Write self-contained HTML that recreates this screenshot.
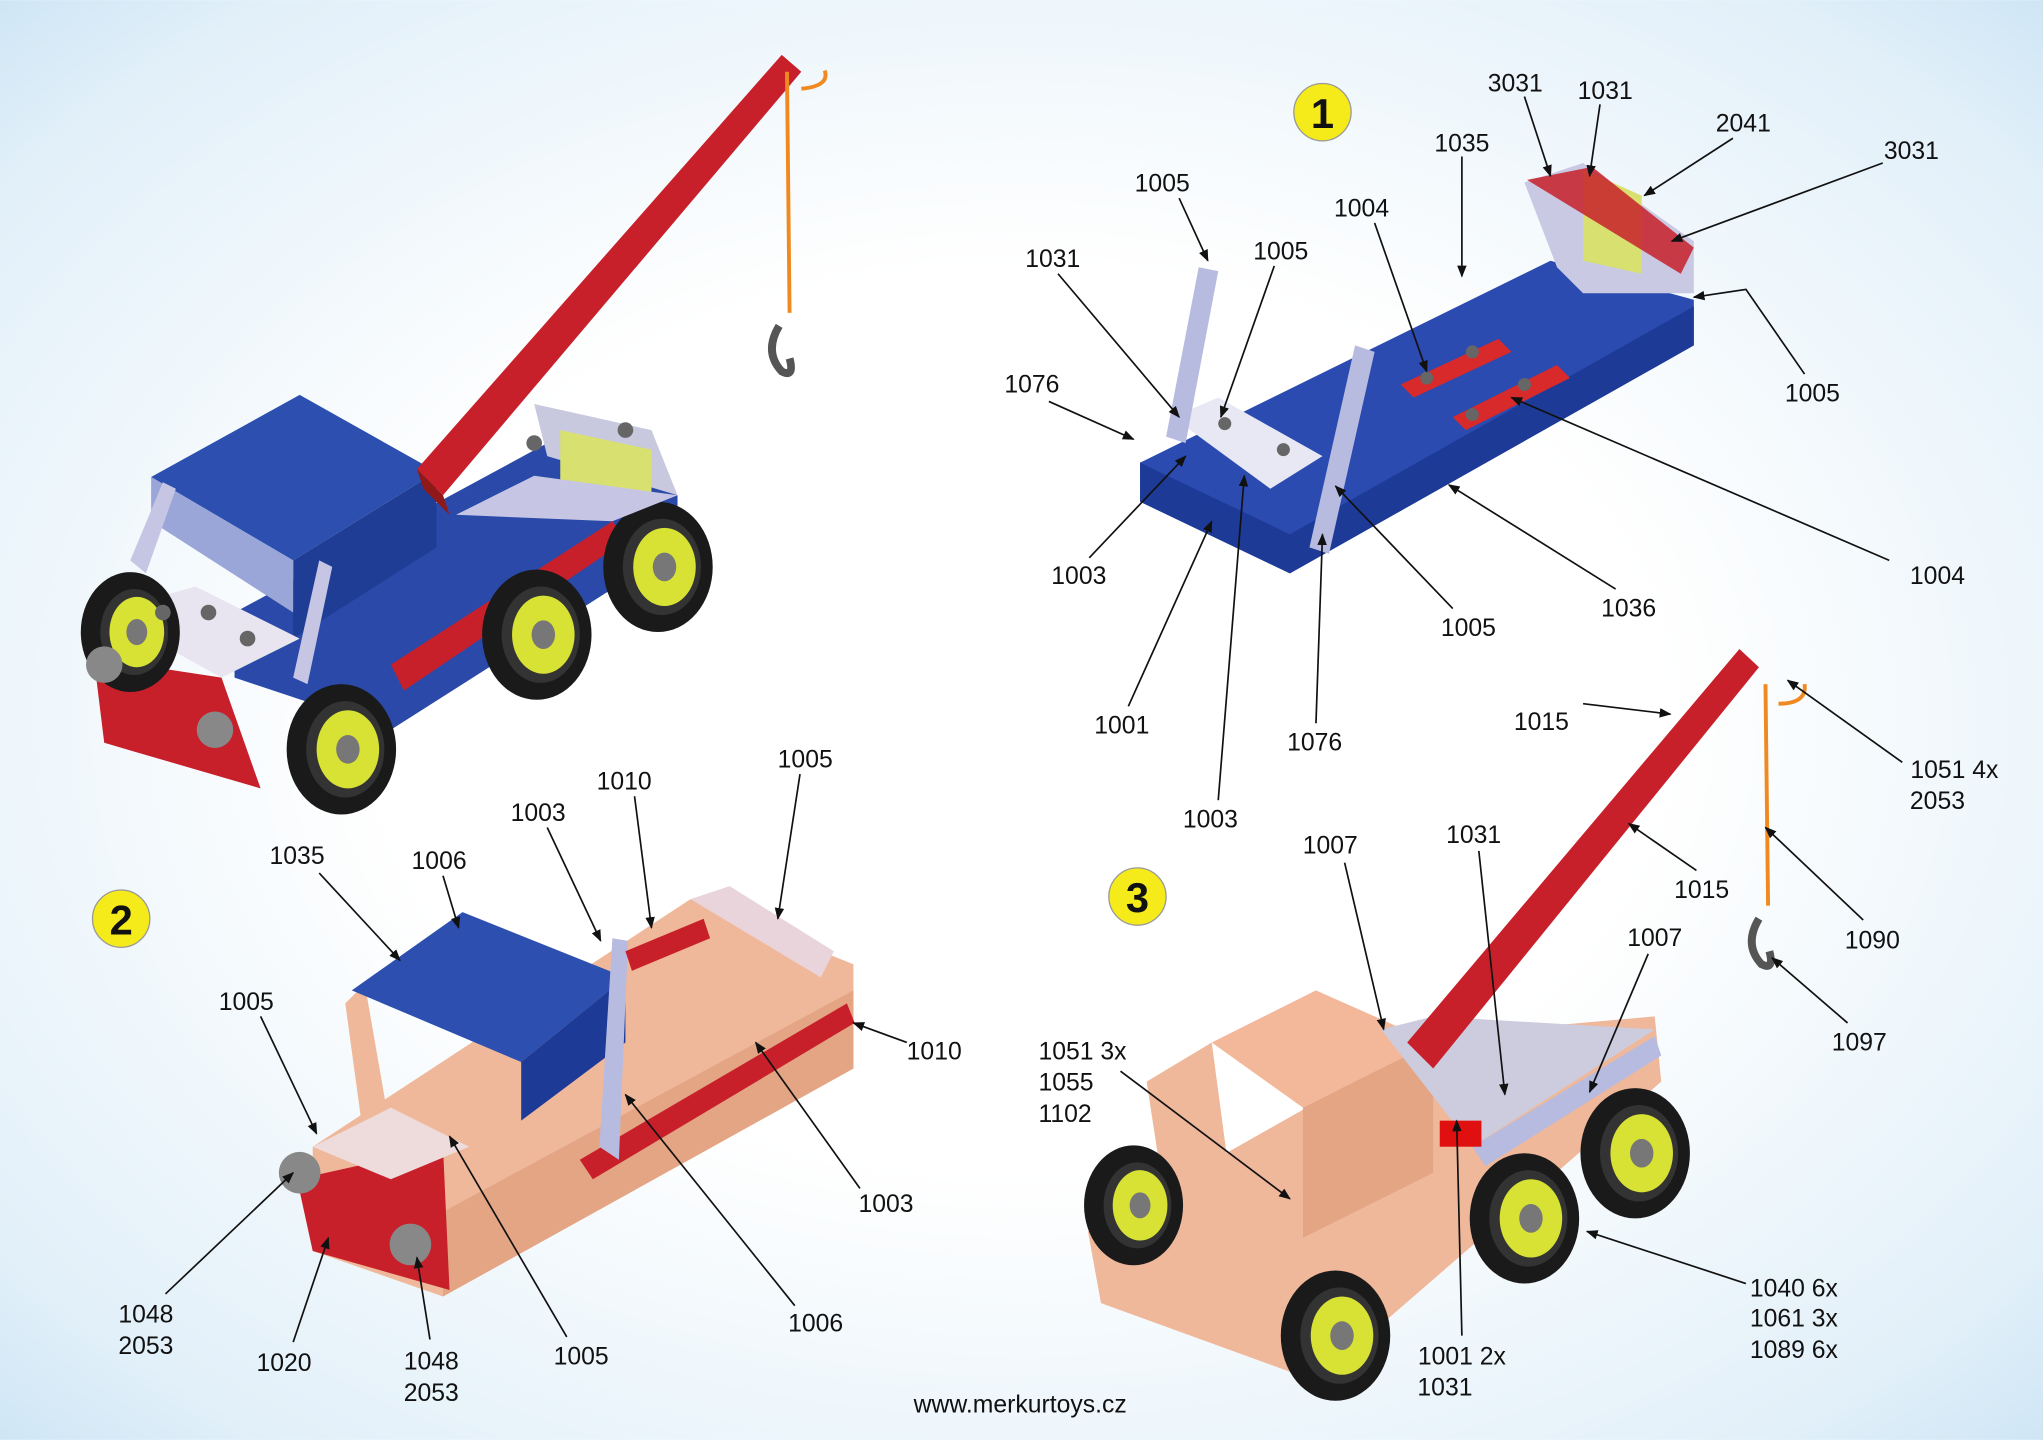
<!DOCTYPE html>
<html><head><meta charset="utf-8"><style>
html,body{margin:0;padding:0;background:#fff}
svg{display:block}
text{font-family:"Liberation Sans",sans-serif;font-size:19px;fill:#111}
</style></head><body>
<svg width="2043" height="1440" viewBox="0 0 1568 1105" xmlns="http://www.w3.org/2000/svg">
<defs>
<radialGradient id="bg" cx="0.5" cy="0.5" r="0.75">
<stop offset="0.42" stop-color="#ffffff"/><stop offset="0.82" stop-color="#e2f0f9"/><stop offset="1" stop-color="#c6e1f3"/>
</radialGradient>
<marker id="ar" viewBox="0 0 10 10" refX="9" refY="5" markerWidth="7" markerHeight="7" orient="auto-start-reverse">
<path d="M0,1 L10,5 L0,9 z" fill="#111"/></marker>
<g id="wheel"><ellipse cx="0" cy="0" rx="42" ry="50" fill="#1a1a1a"/><ellipse cx="3" cy="0" rx="30" ry="37" fill="#333"/><ellipse cx="5" cy="0" rx="24" ry="30" fill="#d7e234"/><ellipse cx="5" cy="0" rx="9" ry="11" fill="#777"/></g>
<g id="wheelL"><ellipse cx="0" cy="0" rx="38" ry="46" fill="#1a1a1a"/><ellipse cx="3" cy="0" rx="26" ry="33" fill="#333"/><ellipse cx="5" cy="0" rx="21" ry="27" fill="#d7e234"/><ellipse cx="5" cy="0" rx="8" ry="10" fill="#777"/></g>
</defs>
<rect width="1568" height="1105" fill="url(#bg)"/>

<!-- ===== Finished truck (top-left) ===== -->
<polygon points="180,470 420,340 520,380 520,420 300,560 180,520" fill="#2a49a8"/>
<polygon points="116,366 230,303 335,362 225,430" fill="#2c4fb0"/>
<polygon points="225,430 335,362 335,420 225,490" fill="#1f3d94"/>
<polygon points="116,366 225,430 225,470 116,400" fill="#9aa6d8"/>
<polygon points="410,310 500,330 520,380 420,350" fill="#c8c8df"/>
<polygon points="430,330 500,345 500,400 430,385" fill="#d8e070"/>
<polygon points="80,470 150,450 230,490 170,520" fill="#e8e4f0"/>
<polygon points="72,505 170,520 200,605 80,570" fill="#c8202a"/>
<polygon points="300,510 470,400 480,415 310,530" fill="#c8202a"/>
<polygon points="320,360 600,42 615,55 340,380" fill="#c8202a"/>
<polygon points="320,360 340,380 345,395 325,375" fill="#901818"/>
<path d="M604,55 L606,240" stroke="#f08a20" stroke-width="3" fill="none"/>
<path d="M615,68 q22,-2 18,-14" stroke="#f08a20" stroke-width="3" fill="none"/>
<path d="M598,250 q-12,20 2,35 q10,5 6,-10" stroke="#555" stroke-width="6" fill="none"/>
<use href="#wheelL" x="100" y="485"/>
<use href="#wheel" x="262" y="575"/>
<use href="#wheel" x="412" y="487"/>
<use href="#wheel" x="505" y="435"/>
<polygon points="100,430 125,370 135,375 112,440" fill="#c6c6e4"/>
<polygon points="225,520 245,430 255,435 236,525" fill="#c6c6e4"/>
<polygon points="350,395 410,365 520,380 470,400" fill="#c6c6e4"/>
<circle cx="80" cy="510" r="14" fill="#888"/><circle cx="165" cy="560" r="14" fill="#888"/>
<g fill="#666"><circle cx="125" cy="470" r="6"/><circle cx="160" cy="470" r="6"/><circle cx="190" cy="490" r="6"/><circle cx="410" cy="340" r="6"/><circle cx="480" cy="330" r="6"/></g>

<!-- ===== Step 1 ===== -->
<circle cx="1015" cy="86" r="22" fill="#f5ea1a" stroke="#999" stroke-width="1"/>
<text x="1015" y="98" text-anchor="middle" style="font-size:32px;font-weight:bold">1</text>
<polygon points="875,355 1190,200 1300,230 1300,265 990,440 875,385" fill="#2b4bb0"/>
<polygon points="875,355 990,410 1300,235 1300,265 990,440 875,385" fill="#1d3a96"/>
<polygon points="1170,140 1215,125 1300,185 1300,225 1215,225 1195,205" fill="#c9c9e3"/>
<polygon points="1215,130 1260,150 1260,210 1215,200" fill="#d8e070"/>
<polygon points="1172,138 1222,128 1300,190 1290,210" fill="#c8202a" opacity="0.85"/>
<polygon points="1075,295 1150,260 1160,270 1085,305" fill="#d82a2a"/>
<polygon points="1115,320 1195,280 1205,290 1125,330" fill="#d82a2a"/>
<polygon points="900,320 935,305 1015,350 975,375" fill="#e8e8f4"/>
<polygon points="895,335 920,205 935,208 910,340" fill="#b8bbe0"/>
<polygon points="1005,420 1040,265 1055,270 1020,425" fill="#b8bbe0"/>
<g fill="#666"><circle cx="1095" cy="290" r="5"/><circle cx="1130" cy="270" r="5"/><circle cx="1130" cy="318" r="5"/><circle cx="1170" cy="295" r="5"/><circle cx="940" cy="325" r="5"/><circle cx="985" cy="345" r="5"/></g>

<!-- ===== Step 2 ===== -->
<circle cx="93" cy="705" r="22" fill="#f5ea1a" stroke="#999" stroke-width="1"/>
<text x="93" y="717" text-anchor="middle" style="font-size:32px;font-weight:bold">2</text>
<polygon points="240,880 530,690 655,740 655,820 340,995 240,960" fill="#f0b89a"/>
<polygon points="340,930 655,760 655,820 340,995" fill="#e4a584"/>
<polygon points="265,770 280,755 300,870 280,880" fill="#f0b89a"/>
<polygon points="270,760 355,700 480,750 400,815" fill="#2c4fb0"/>
<polygon points="400,815 480,750 480,800 400,860" fill="#1d3a96"/>
<polygon points="228,905 340,880 345,990 240,960" fill="#c8202a"/>
<polygon points="240,880 300,850 360,880 300,905" fill="#eedcdc"/>
<polygon points="530,690 560,680 640,730 630,750" fill="#e9d4dc"/>
<polygon points="445,890 650,770 656,785 455,905" fill="#c8202a"/>
<polygon points="460,880 470,720 482,722 475,890" fill="#b8bbe0"/>
<polygon points="480,730 540,705 545,720 485,745" fill="#c8202a"/>
<circle cx="230" cy="900" r="16" fill="#888"/><circle cx="315" cy="955" r="16" fill="#888"/>

<!-- ===== Step 3 ===== -->
<circle cx="873" cy="688" r="22" fill="#f5ea1a" stroke="#999" stroke-width="1"/>
<text x="873" y="700" text-anchor="middle" style="font-size:32px;font-weight:bold">3</text>
<polygon points="835,945 1100,795 1270,780 1275,830 1010,1060 845,1000" fill="#f0b89a"/>
<polygon points="930,800 1010,760 1100,800 1000,850" fill="#f2b899"/>
<polygon points="1000,850 1100,800 1100,900 1000,950" fill="#e4a584"/>
<polygon points="880,830 930,800 950,950 900,960" fill="#f0b89a"/>
<polygon points="1060,790 1100,780 1270,790 1130,880" fill="#ccccde"/>
<polygon points="1080,800 1335,498 1350,512 1100,820" fill="#c8202a"/>
<polygon points="1130,880 1270,795 1275,810 1140,895" fill="#b8bbe0"/>
<rect x="1105" y="860" width="32" height="20" fill="#e01010"/>
<path d="M1355,525 L1357,695" stroke="#f08a20" stroke-width="3" fill="none"/>
<path d="M1365,540 q22,0 20,-15" stroke="#f08a20" stroke-width="3" fill="none"/>
<path d="M1350,705 q-12,20 2,35 q10,5 6,-10" stroke="#555" stroke-width="6" fill="none"/>
<use href="#wheelL" x="870" y="925"/>
<use href="#wheel" x="1025" y="1025"/>
<use href="#wheel" x="1170" y="935"/>
<use href="#wheel" x="1255" y="885"/>

<!-- leader lines -->
<g stroke="#111" stroke-width="1.3" fill="none" marker-end="url(#ar)">
<line x1="1170" y1="74" x2="1190" y2="135"/><line x1="1228" y1="80" x2="1220" y2="135"/>
<line x1="1330" y1="106" x2="1262" y2="150"/><line x1="1445" y1="125" x2="1283" y2="185"/>
<line x1="1122" y1="120" x2="1122" y2="212"/><line x1="905" y1="152" x2="927" y2="200"/>
<line x1="1055" y1="171" x2="1095" y2="285"/><line x1="978" y1="204" x2="937" y2="320"/>
<line x1="812" y1="210" x2="905" y2="320"/><line x1="805" y1="308" x2="870" y2="337"/>
<polyline points="1385,287 1340,222 1300,228"/><line x1="836" y1="428" x2="910" y2="350"/>
<line x1="1450" y1="430" x2="1160" y2="305"/><line x1="1240" y1="452" x2="1112" y2="372"/>
<line x1="1115" y1="467" x2="1025" y2="373"/><line x1="866" y1="542" x2="930" y2="400"/>
<line x1="1010" y1="555" x2="1015" y2="410"/><line x1="935" y1="614" x2="955" y2="365"/>
<line x1="245" y1="670" x2="307" y2="737"/><line x1="340" y1="672" x2="352" y2="712"/>
<line x1="420" y1="635" x2="461" y2="722"/><line x1="487" y1="611" x2="500" y2="712"/>
<line x1="614" y1="594" x2="597" y2="705"/><line x1="200" y1="780" x2="243" y2="870"/>
<line x1="696" y1="800" x2="655" y2="785"/><line x1="660" y1="912" x2="580" y2="800"/>
<line x1="610" y1="1002" x2="480" y2="840"/><line x1="435" y1="1026" x2="345" y2="872"/>
<line x1="127" y1="993" x2="225" y2="900"/><line x1="225" y1="1030" x2="252" y2="950"/>
<line x1="330" y1="1028" x2="320" y2="965"/>
<line x1="1215" y1="540" x2="1282" y2="548"/><line x1="1460" y1="585" x2="1372" y2="522"/>
<line x1="1135" y1="653" x2="1155" y2="840"/><line x1="1032" y1="662" x2="1062" y2="790"/>
<line x1="1302" y1="668" x2="1250" y2="632"/><line x1="1430" y1="706" x2="1355" y2="635"/>
<line x1="1265" y1="732" x2="1220" y2="838"/><line x1="1418" y1="785" x2="1360" y2="735"/>
<line x1="860" y1="822" x2="990" y2="920"/><line x1="1340" y1="985" x2="1218" y2="945"/>
<line x1="1122" y1="1025" x2="1118" y2="860"/>
</g>

<!-- labels -->
<g text-anchor="middle">
<text x="1163" y="70">3031</text><text x="1232" y="76">1031</text><text x="1338" y="101">2041</text>
<text x="1467" y="122">3031</text><text x="1122" y="116">1035</text><text x="892" y="147">1005</text>
<text x="1045" y="166">1004</text><text x="983" y="199">1005</text><text x="808" y="205">1031</text>
<text x="792" y="301">1076</text><text x="1391" y="308">1005</text><text x="828" y="448">1003</text>
<text x="1487" y="448">1004</text><text x="1250" y="473">1036</text><text x="1127" y="488">1005</text>
<text x="861" y="563">1001</text><text x="1009" y="576">1076</text><text x="929" y="635">1003</text>
<text x="228" y="663">1035</text><text x="337" y="667">1006</text><text x="413" y="630">1003</text>
<text x="479" y="606">1010</text><text x="618" y="589">1005</text><text x="189" y="775">1005</text>
<text x="717" y="813">1010</text><text x="680" y="930">1003</text><text x="626" y="1022">1006</text>
<text x="446" y="1047">1005</text><text x="112" y="1015">1048</text><text x="112" y="1039">2053</text>
<text x="218" y="1052">1020</text><text x="331" y="1051">1048</text><text x="331" y="1075">2053</text>
<text x="1183" y="560">1015</text><text x="1500" y="597">1051 4x</text><text x="1487" y="621">2053</text>
<text x="1131" y="647">1031</text><text x="1021" y="655">1007</text><text x="1306" y="689">1015</text>
<text x="1437" y="728">1090</text><text x="1270" y="726">1007</text><text x="1427" y="806">1097</text>
<text x="1122" y="1047">1001 2x</text><text x="1109" y="1071">1031</text>
<text x="783" y="1084">www.merkurtoys.cz</text>
</g>
<g text-anchor="start">
<text x="797" y="813">1051 3x</text><text x="797" y="837">1055</text><text x="797" y="861">1102</text>
<text x="1343" y="995">1040 6x</text><text x="1343" y="1018">1061 3x</text><text x="1343" y="1042">1089 6x</text>
</g>
</svg>
</body></html>
